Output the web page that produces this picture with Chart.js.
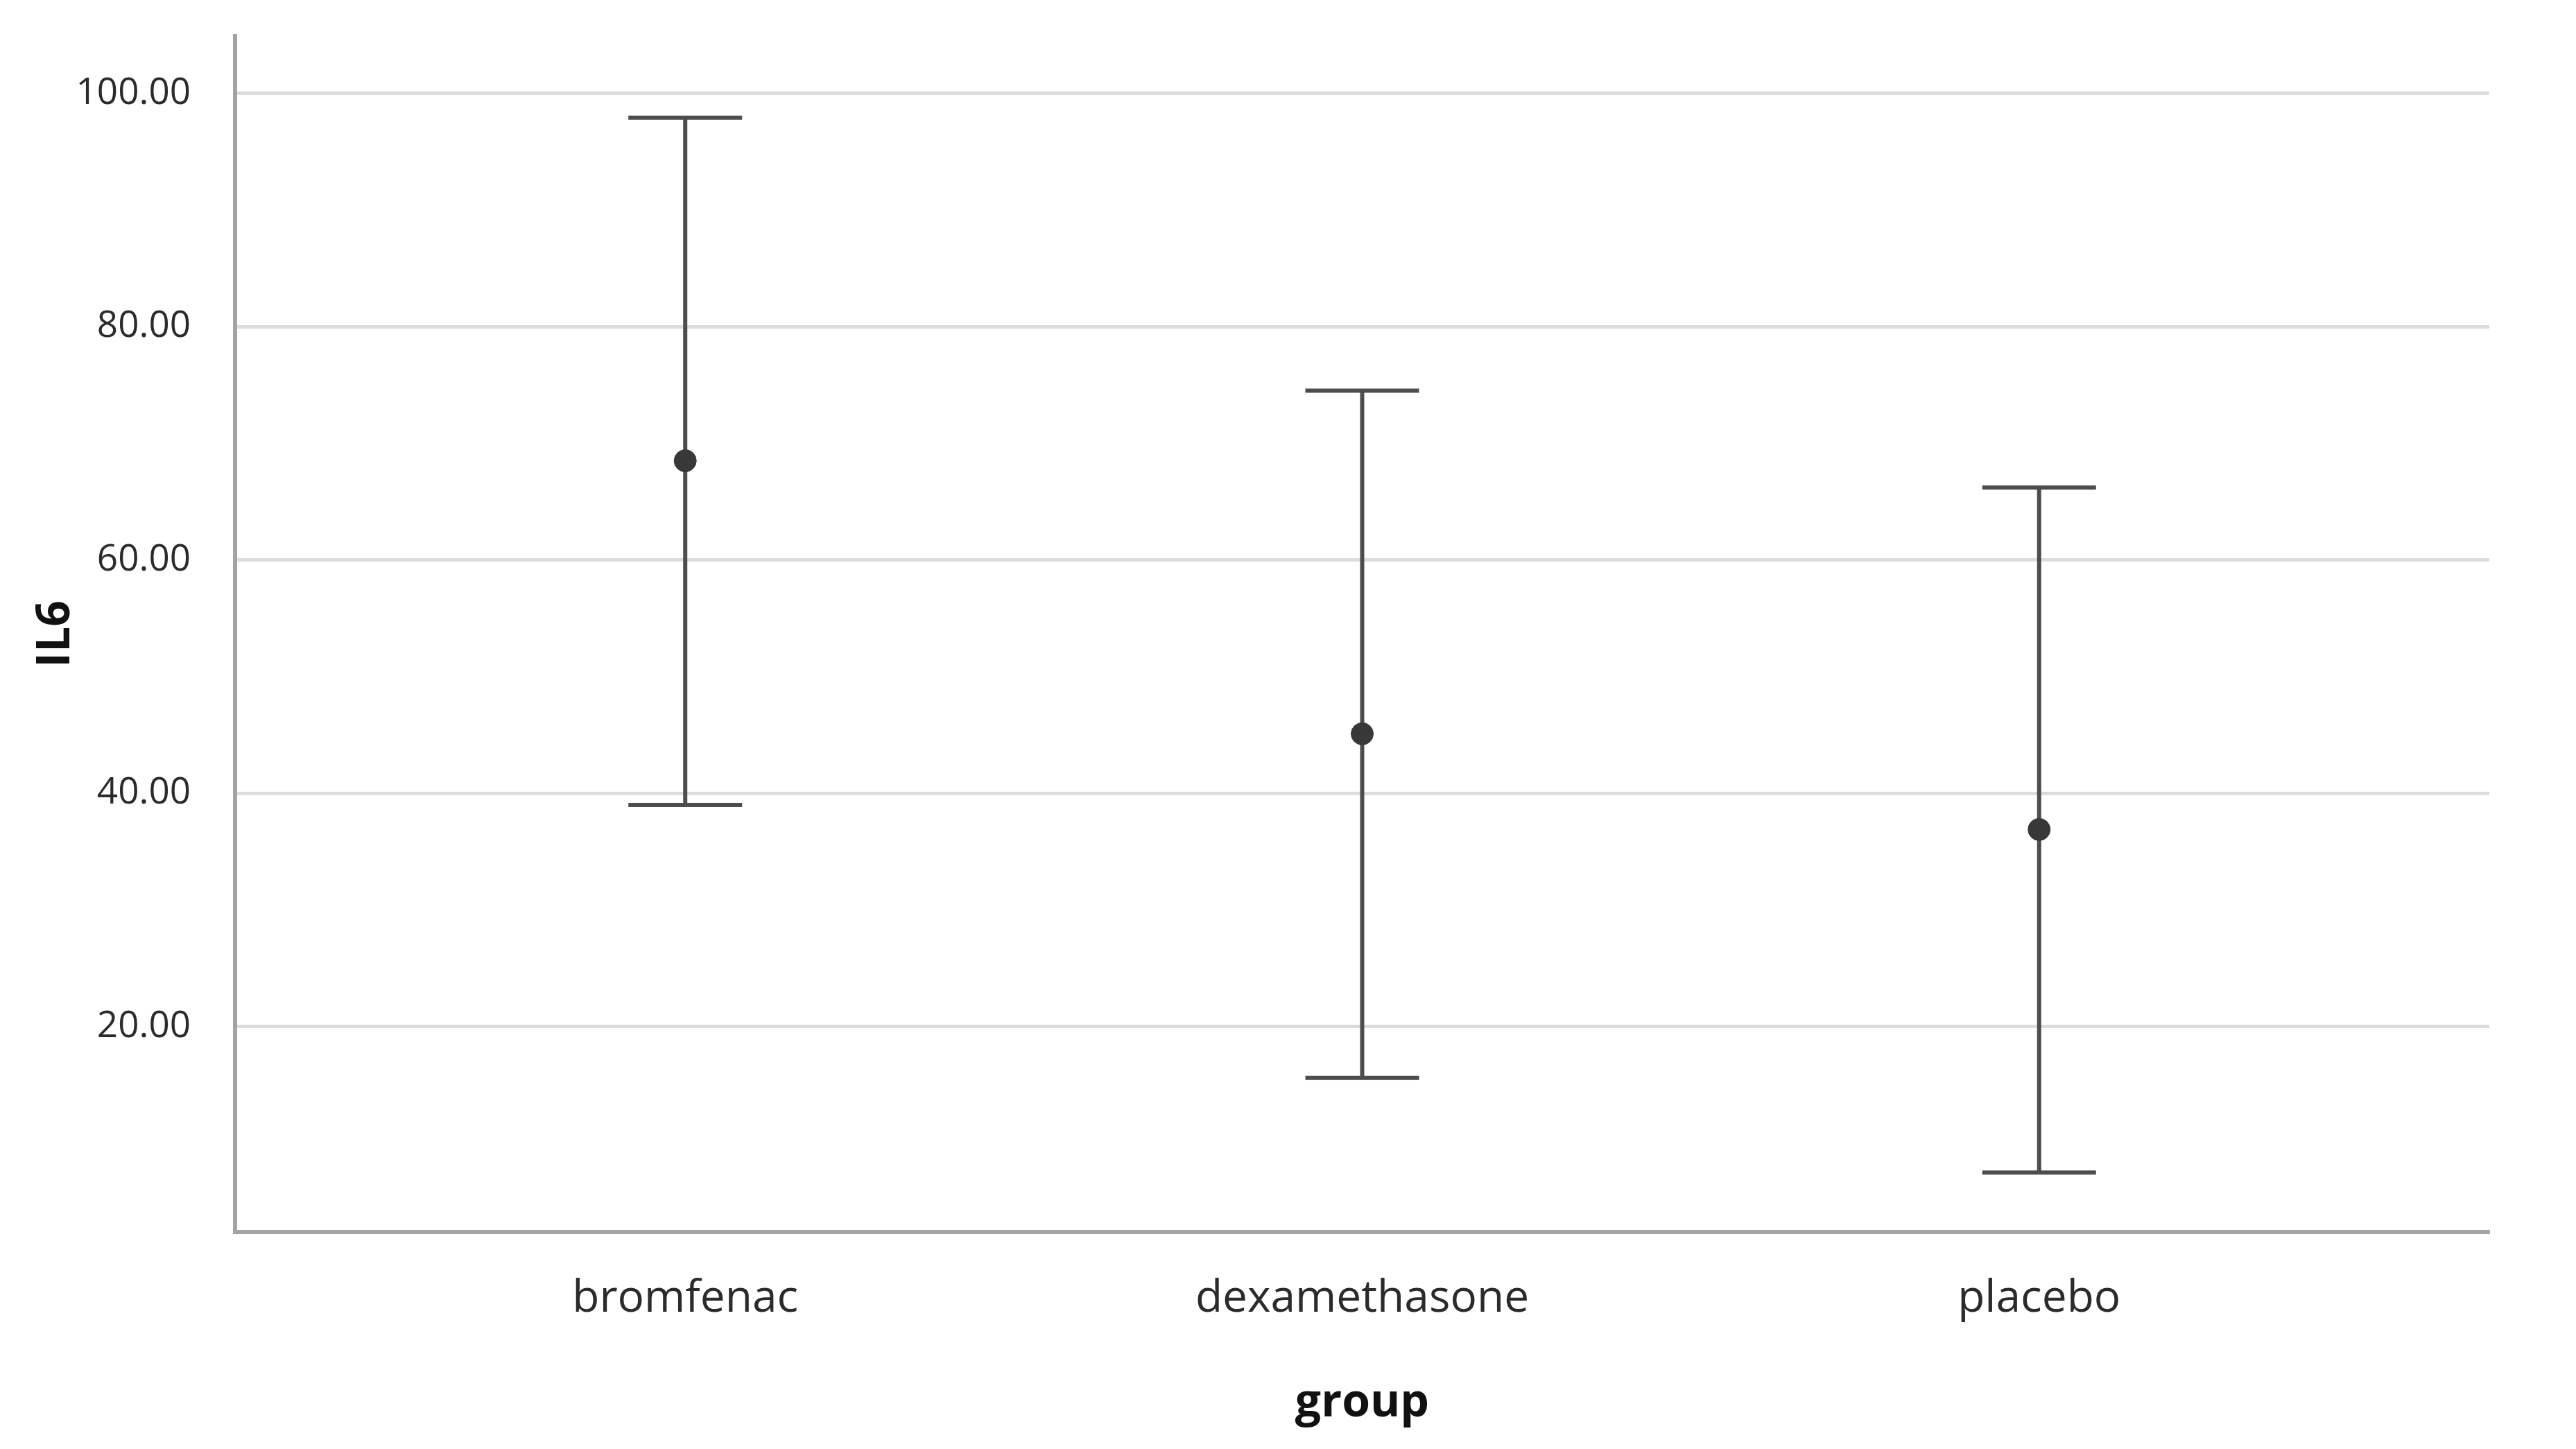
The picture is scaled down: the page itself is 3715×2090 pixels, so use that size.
<!DOCTYPE html>
<html>
<head>
<meta charset="utf-8">
<title>IL6 by group</title>
<script src="https://cdn.jsdelivr.net/npm/chart.js@4.4.0/dist/chart.umd.min.js"></script>
<style>
  body { margin: 0; background: #fff; }
  canvas { display: block; }
</style>
</head>
<body>
<canvas id="myChart" width="3715" height="2090"></canvas>
<script>
// datos
const grupos = ['bromfenac', 'dexamethasone', 'placebo'];
const medias = [68.5, 45.1, 36.9];
const limiteInferior = [39.0, 15.6, 7.5];
const limiteSuperior = [97.9, 74.5, 66.2];
const ticksY = [20, 40, 60, 80, 100];

const fuente = "'Open Sans', 'DejaVu Sans', sans-serif";

// dibuja las barras de error con las escalas del grafico
const barrasError = {
    id: 'barrasError',
    beforeDatasetsDraw(chart) {
        const ctx = chart.ctx;
        const x = chart.scales.x;
        const y = chart.scales.y;
        const mitadTapa = 82;
        ctx.save();
        ctx.strokeStyle = '#4d4d4d';
        ctx.lineWidth = 6;
        grupos.forEach((g, i) => {
            const px = x.getPixelForValue(i);
            const yTop = y.getPixelForValue(limiteSuperior[i]);
            const yBot = y.getPixelForValue(limiteInferior[i]);
            ctx.beginPath();
            ctx.moveTo(px, yTop);
            ctx.lineTo(px, yBot);
            ctx.moveTo(px - mitadTapa, yTop);
            ctx.lineTo(px + mitadTapa, yTop);
            ctx.moveTo(px - mitadTapa, yBot);
            ctx.lineTo(px + mitadTapa, yBot);
            ctx.stroke();
        });
        ctx.restore();
    }
};

const ctx = document.getElementById('myChart').getContext('2d');

new Chart(ctx, {
    type: 'scatter',
    data: {
        datasets: [{
            label: 'IL6',
            data: medias.map((m, i) => ({ x: i, y: m })),
            backgroundColor: '#383838',
            borderColor: '#383838',
            pointRadius: 16,
            pointHoverRadius: 16
        }]
    },
    options: {
        responsive: false,
        animation: false,
        layout: {
            padding: { left: 42, right: 125, top: 52, bottom: 26 }
        },
        plugins: {
            legend: { display: false },
            tooltip: { enabled: false }
        },
        scales: {
            x: {
                type: 'linear',
                min: -0.665,
                max: 2.665,
                afterBuildTicks: (scale) => {
                    scale.ticks = grupos.map((g, i) => ({ value: i }));
                },
                afterFit: (scale) => { scale.height = 287; },
                grid: { display: false, drawTicks: false },
                border: { display: true, color: '#a3a3a3', width: 6 },
                ticks: {
                    padding: 58,
                    color: '#2b2b2b',
                    font: { family: fuente, size: 64 },
                    callback: (v) => grupos[v]
                },
                title: {
                    display: true,
                    text: 'group',
                    color: '#111111',
                    padding: 0,
                    font: { family: fuente, size: 66, weight: 'bold' }
                }
            },
            y: {
                min: 2.4,
                max: 104.9,
                afterBuildTicks: (scale) => {
                    scale.ticks = ticksY.map(v => ({ value: v }));
                },
                afterFit: (scale) => {
                    scale.width = 297;
                    // sin margen extra arriba/abajo por las etiquetas
                    scale.paddingTop = 0;
                    scale.paddingBottom = 0;
                },
                grid: { color: '#dcdcdc', lineWidth: 5, drawTicks: false },
                border: { display: true, color: '#a3a3a3', width: 6 },
                ticks: {
                    padding: 64,
                    color: '#2b2b2b',
                    font: { family: fuente, size: 53 },
                    callback: (v) => v.toFixed(2)
                },
                title: {
                    display: true,
                    text: 'IL6',
                    color: '#111111',
                    padding: 0,
                    font: { family: fuente, size: 66, weight: 'bold' }
                }
            }
        }
    },
    plugins: [barrasError]
});
</script>
</body>
</html>
